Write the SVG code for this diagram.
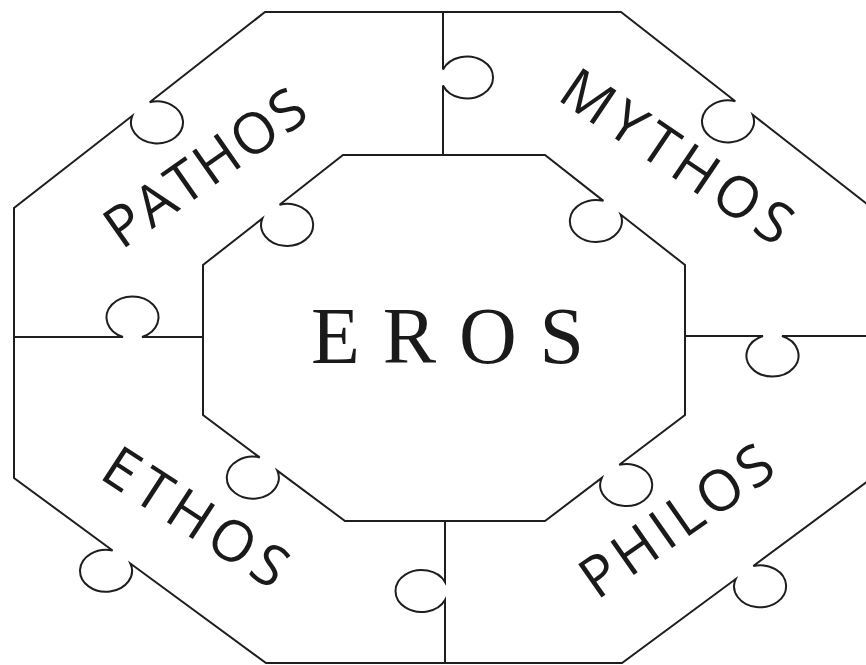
<svg xmlns="http://www.w3.org/2000/svg" width="866" height="665" viewBox="0 0 866 665">
<style>
.ln{fill:none;stroke:#1e1e1e;stroke-width:2;stroke-linejoin:miter}
.lbl{font-family:"Open Sans","Liberation Sans",sans-serif;font-size:57px;fill:#1a1a1a;text-anchor:middle}
.big{font-family:"Liberation Serif","Times New Roman",serif;font-size:80px;fill:#1a1a1a}
</style>
<rect width="866" height="665" fill="#ffffff"/>
<g id="connectors">
<path id="outer" class="ln" d="M265,12 L621,12 L735.3,101.2 A26,21 0 1,0 752.7,114.8 L872,208 L872,478 L753.3,566 A26,21 0 1,1 735.7,579 L622,663 L266,663 L130.4,563.5 A26,21 0 1,1 112.6,550.5 L14,478 L14,208 L132.3,115.8 A26,21 0 1,0 149.7,102.2 Z"/>
<path id="div-top" class="ln" d="M443,12 L443,69.5 A26,21 0 1,1 443,85.5 L443,155"/>
<path id="div-bottom" class="ln" d="M445,521 L445,582 A26,21 0 1,0 445,600 L445,663"/>
<path id="div-left" class="ln" d="M14,337 L123,337 A26,21 0 1,1 142,337 L203,337"/>
<path id="div-right" class="ln" d="M685,336 L763,336 A26,21 0 1,0 782,336 L872,336"/>
</g>
<g id="eros">
<path class="ln" d="M343,155 L545,155 L603.4,200.9 A26,21 0 1,0 620.6,214.5 L685,265 L685,415 L619.3,464.8 A26,21 0 1,1 601.7,478 L545,521 L345,521 L277.3,470.6 A26,21 0 1,1 259.7,457.4 L203,415 L203,265 L262.4,218.4 A26,21 0 1,0 279.6,204.8 Z"/>
<text class="big" x="311" y="363" textLength="273" lengthAdjust="spacing">EROS</text>
</g>
<g id="pathos"><text class="lbl" transform="translate(216.5,184) rotate(-35)" textLength="232" lengthAdjust="spacing">PATHOS</text></g>
<g id="mythos"><text class="lbl" transform="translate(666,173) rotate(34)" textLength="266" lengthAdjust="spacing">MYTHOS</text></g>
<g id="ethos"><text class="lbl" transform="translate(185,534) rotate(33)" textLength="208" lengthAdjust="spacing">ETHOS</text></g>
<g id="philos"><text class="lbl" transform="translate(688,537) rotate(-35)" textLength="222" lengthAdjust="spacing">PHILOS</text></g>
</svg>
